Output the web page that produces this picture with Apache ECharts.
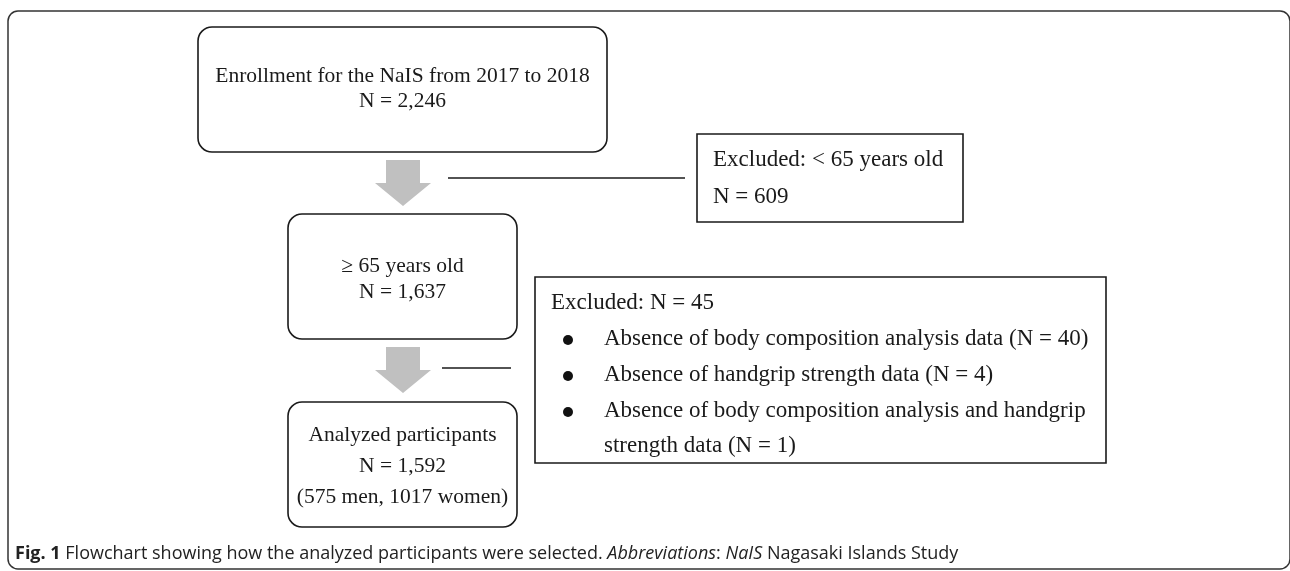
<!DOCTYPE html>
<html>
<head>
<meta charset="utf-8">
<title>Flowchart</title>
<script src="https://cdn.jsdelivr.net/npm/echarts@6/dist/echarts.min.js"></script>
<style>
    html, body { margin: 0; padding: 0; background: #fff; }
    #chart { width: 1290px; height: 571px; }
</style>
</head>
<body>
<div id="chart"></div>
<script>
    // flow steps (main column)
    const stepNames = ['Enrollment for the NaIS from 2017 to 2018', '\u2265 65 years old', 'Analyzed participants'];
    const stepCounts = ['N = 2,246', 'N = 1,637', 'N = 1,592'];
    const stepNotes = ['', '', '(575 men, 1017 women)'];

    // exclusions
    const exclusionHeads = ['Excluded: < 65 years old', 'Excluded: N = 45'];
    const exclusionCounts = ['N = 609', ''];
    const exclusionItems = [
        [],
        ['Absence of body composition analysis data (N = 40)',
         'Absence of handgrip strength data (N = 4)',
         'Absence of body composition analysis and handgrip',
         'strength data (N = 1)']
    ];
    const itemBullets = [[], [true, true, true, false]];

    const captionText = '{b|Fig. 1} Flowchart showing how the analyzed participants were selected. {i|Abbreviations}: {i|NaIS} Nagasaki Islands Study';

    // layout (pixel units of the hidden axes)
    const layout = {
        stepBox: [[198, 27, 607, 152], [288, 214, 517, 339], [288, 402, 517, 527]],
        stepRows: [[76, 101], [266, 292], [435, 466, 497]],
        exBox: [[697, 134, 963, 222], [535, 277, 1106, 463]],
        exHead: [[713, 160], [551, 303]],
        exRows: [[197], [339, 375, 411, 446]],
        bulletX: 568,
        itemX: 604,
        arrows: [[160, 206], [347, 393]],
        arrowX: 403,
        links: [[448, 685, 178], [442, 511, 368]]
    };

    const serif = '"Liberation Serif", "Times New Roman", serif';
    const sans = '"Open Sans", sans-serif';
    const stepFont = 21.5;
    const exFont = 23;
    const capFont = 18;

    let chart = echarts.init(document.getElementById('chart'), null, { renderer: 'canvas' });

    function txt(api, x, y, text, size, align) {
        let p = api.coord([x, y]);
        return {
            type: 'text',
            style: {
                x: p[0], y: p[1], text: text,
                fontFamily: serif, fontSize: size,
                fill: '#1a1a1a',
                align: align, textAlign: align,
                verticalAlign: 'middle', textVerticalAlign: 'middle'
            }
        };
    }

    function boxRect(api, b, r) {
        let p0 = api.coord([b[0], b[1]]);
        let p1 = api.coord([b[2], b[3]]);
        return {
            type: 'rect',
            shape: { x: p0[0], y: p0[1], width: p1[0] - p0[0], height: p1[1] - p0[1], r: r },
            style: { fill: '#fff', stroke: '#1a1a1a', lineWidth: 1.6 }
        };
    }

    function renderStep(params, api) {
        let i = params.dataIndex;
        let b = layout.stepBox[i];
        let cx = (b[0] + b[2]) / 2;
        let rows = layout.stepRows[i];
        let lines = [stepNames[i], stepCounts[i], stepNotes[i]].filter(t => t !== '');
        let children = [boxRect(api, b, 14)];
        lines.forEach((t, k) => {
            children.push(txt(api, cx, rows[k], t, stepFont, 'center'));
        });
        return { type: 'group', children: children };
    }

    function renderExclusion(params, api) {
        let i = params.dataIndex;
        let b = layout.exBox[i];
        let children = [boxRect(api, b, 0)];
        let h = layout.exHead[i];
        children.push(txt(api, h[0], h[1], exclusionHeads[i], exFont, 'left'));
        if (exclusionCounts[i]) {
            children.push(txt(api, h[0], layout.exRows[i][0], exclusionCounts[i], exFont, 'left'));
        }
        exclusionItems[i].forEach((t, k) => {
            let y = layout.exRows[i][k];
            children.push(txt(api, layout.itemX, y, t, exFont, 'left'));
            if (itemBullets[i][k]) {
                let c = api.coord([layout.bulletX, y]);
                children.push({
                    type: 'circle',
                    shape: { cx: c[0], cy: c[1] + 1, r: 5 },
                    style: { fill: '#111' }
                });
            }
        });
        return { type: 'group', children: children };
    }

    function renderLink(params, api) {
        let i = params.dataIndex;
        let a = layout.arrows[i];
        let x = layout.arrowX;
        let headY = a[0] + (a[1] - a[0]) / 2;
        let pts = [
            [x - 17, a[0]], [x + 17, a[0]], [x + 17, headY], [x + 28, headY],
            [x, a[1]], [x - 28, headY], [x - 17, headY]
        ].map(p => api.coord(p));
        let l = layout.links[i];
        let l0 = api.coord([l[0], l[2]]);
        let l1 = api.coord([l[1], l[2]]);
        return {
            type: 'group',
            children: [
                { type: 'polygon', shape: { points: pts }, style: { fill: '#c0c0c0' } },
                { type: 'line', shape: { x1: l0[0], y1: l0[1], x2: l1[0], y2: l1[1] },
                  style: { stroke: '#1a1a1a', lineWidth: 1.6 } }
            ]
        };
    }

    let option = {
        animation: false,
        backgroundColor: '#fff',
        grid: { left: 0, right: 0, top: 0, bottom: 0 },
        xAxis: { type: 'value', min: 0, max: 1290, show: false },
        yAxis: { type: 'value', min: 0, max: 571, inverse: true, show: false },
        title: {
            text: captionText,
            left: 10,
            top: 540,
            textStyle: {
                fontFamily: sans,
                fontSize: capFont,
                fontWeight: 'normal',
                color: '#222',
                rich: {
                    b: { fontFamily: sans, fontSize: capFont, fontWeight: 'bold', color: '#222' },
                    i: { fontFamily: sans, fontSize: capFont, fontStyle: 'italic', color: '#222' }
                }
            }
        },
        graphic: [{
            type: 'rect',
            shape: { x: 8, y: 11, width: 1282, height: 558, r: 10 },
            style: { fill: 'none', stroke: '#333', lineWidth: 1.5 },
            silent: true,
            z: -1
        }],
        series: [
            {
                type: 'custom',
                name: 'links',
                renderItem: renderLink,
                data: layout.arrows.map((a, i) => [i]),
                silent: true
            },
            {
                type: 'custom',
                name: 'steps',
                renderItem: renderStep,
                data: stepNames.map((n, i) => [i]),
                silent: true
            },
            {
                type: 'custom',
                name: 'exclusions',
                renderItem: renderExclusion,
                data: exclusionHeads.map((n, i) => [i]),
                silent: true
            }
        ]
    };

    chart.setOption(option);
</script>
</body>
</html>
